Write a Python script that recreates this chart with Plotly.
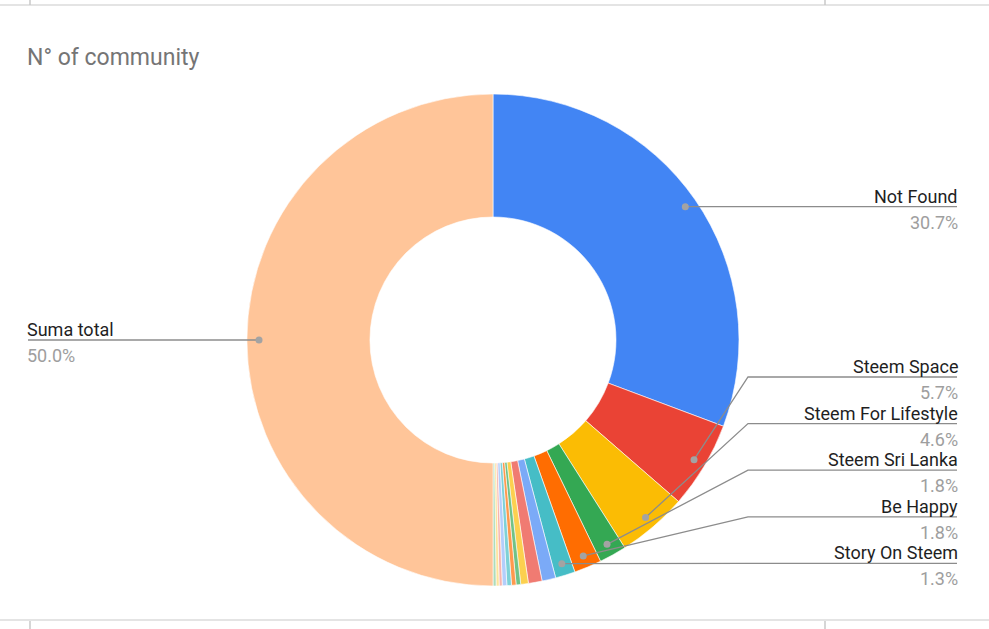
import math
import plotly.graph_objects as go

W, H = 989, 629

# slice data (percent of the whole), clockwise from 12 o'clock
communities = [
    "Not Found", "Steem Space", "Steem For Lifestyle", "Steem Sri Lanka", "Be Happy", "Story On Steem",
    "Otra 1", "Otra 2", "Otra 3", "Otra 4", "Otra 5", "Otra 6", "Otra 7", "Otra 8", "Otra 9", "Otra 10",
    "Suma total",
]
shares = [30.7, 5.7, 4.6, 1.8, 1.8, 1.3, 0.9, 0.9, 0.5, 0.3, 0.3, 0.3, 0.3, 0.2, 0.2, 0.2, 50.0]
colors = [
    "#4285f4", "#ea4335", "#fbbc04", "#34a853", "#ff6d01", "#46bdc6",
    "#7baaf7", "#f07b72", "#fcd04f", "#71c287", "#ff994d", "#7ed1d7",
    "#b3cefb", "#f7b4ae", "#fde49b", "#aedcba", "#ffc599",
]
right_labels = ["Steem Space", "Steem For Lifestyle", "Steem Sri Lanka", "Be Happy", "Story On Steem"]

# geometry in screen pixels
cx, cy, R = 493, 340, 246
r_dot = 234
label_x_right = 957
label_x_left = 28
elbow_x = 748
slot_top, slot_step = 377, 46.6

LINE = "#8c8c8c"
NAME_C = "#1f1f1f"
PCT_C = "#9e9e9e"
FONT = "Roboto"

fig = go.Figure()

fig.add_trace(go.Pie(
    labels=communities,
    values=shares,
    sort=False,
    direction="clockwise",
    rotation=0,
    hole=0.5,
    textinfo="none",
    marker=dict(colors=colors, line=dict(color="white", width=0.6)),
    domain=dict(x=[(cx - R) / W, (cx + R) / W], y=[1 - (cy + R) / H, 1 - (cy - R) / H]),
    showlegend=False,
))

total = sum(shares)
mids = {}
acc = 0
for name, v in zip(communities, shares):
    mid = (acc + v / 2) / total
    a = 2 * math.pi * mid
    mids[name] = (cx + r_dot * math.sin(a), cy - r_dot * math.cos(a), v / total * 100)
    acc += v

shapes = []
annotations = []


def add_dot(x, y, r=3.5):
    shapes.append(dict(type="circle", xref="x", yref="y", x0=x - r, x1=x + r, y0=y - r, y1=y + r,
                       fillcolor="#a3a3a3", line=dict(width=0), layer="above"))


def add_label(name, x, y, anchor):
    pct = mids[name][2]
    shift = 3 if anchor == "right" else -3
    annotations.append(dict(x=x, y=y, xref="x", yref="y", text=name, showarrow=False,
                            xanchor=anchor, yanchor="bottom", yshift=-2, xshift=shift,
                            font=dict(family=FONT, size=18, color=NAME_C)))
    annotations.append(dict(x=x, y=y, xref="x", yref="y", text=f"{pct:.1f}%", showarrow=False,
                            xanchor=anchor, yanchor="top", yshift=-3, xshift=shift,
                            font=dict(family=FONT, size=18, color=PCT_C)))


# Not Found: straight line to the right
x0, y0, _ = mids["Not Found"]
shapes.append(dict(type="line", xref="x", yref="y", x0=x0, y0=y0, x1=label_x_right, y1=y0,
                   line=dict(color=LINE, width=1.3)))
add_label("Not Found", label_x_right, y0, "right")
add_dot(x0, y0)

# Suma total: straight line to the left
x0, y0, _ = mids["Suma total"]
shapes.append(dict(type="line", xref="x", yref="y", x0=x0, y0=y0, x1=label_x_left, y1=y0,
                   line=dict(color=LINE, width=1.3)))
add_label("Suma total", label_x_left, y0, "left")
add_dot(x0, y0)

# stacked labels at the lower right
for k, name in enumerate(right_labels):
    x0, y0, _ = mids[name]
    sy = slot_top + slot_step * k
    shapes.append(dict(type="path", xref="x", yref="y",
                       path=f"M {x0:.1f} {y0:.1f} L {elbow_x} {sy:.1f} L {label_x_right} {sy:.1f}",
                       line=dict(color=LINE, width=1.3)))
    add_label(name, label_x_right, sy, "right")
    add_dot(x0, y0)

# sheet grid remnants around the chart
GRID = "#e4e4e4"
for yy in (5, 620):
    shapes.append(dict(type="line", xref="x", yref="y", x0=0, x1=W, y0=yy, y1=yy,
                       line=dict(color=GRID, width=2)))
for xx in (30, 825):
    shapes.append(dict(type="line", xref="x", yref="y", x0=xx, x1=xx, y0=0, y1=5,
                       line=dict(color="#c8c8c8", width=1.5)))
    shapes.append(dict(type="line", xref="x", yref="y", x0=xx, x1=xx, y0=621, y1=H,
                       line=dict(color="#c8c8c8", width=1.5)))

annotations.append(dict(x=label_x_left, y=57, xref="x", yref="y", text="N° of community", showarrow=False,
                        xanchor="left", yanchor="middle", xshift=-3,
                        font=dict(family=FONT, size=23, color="#757575")))

fig.update_layout(
    width=W, height=H,
    margin=dict(l=0, r=0, t=0, b=0),
    paper_bgcolor="white",
    plot_bgcolor="rgba(0,0,0,0)",
    xaxis=dict(range=[0, W], visible=False, fixedrange=True),
    yaxis=dict(range=[H, 0], visible=False, fixedrange=True),
    shapes=shapes,
    annotations=annotations,
)

fig.write_html("out.html", config={"displayModeBar": False},
               post_script="document.body.style.margin='0';")
